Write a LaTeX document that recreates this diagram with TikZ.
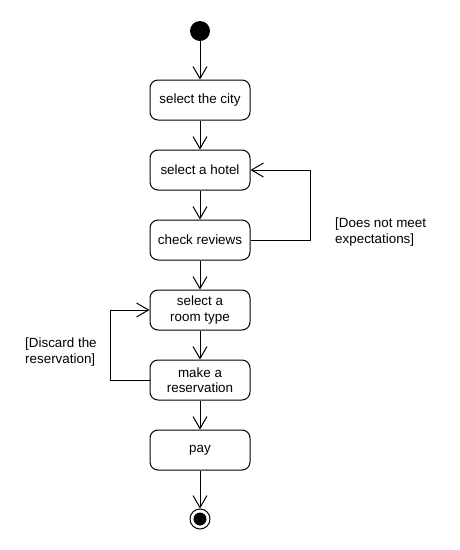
\documentclass[tikz,border=0pt]{standalone}
\usepackage{fontspec}
\setmainfont{Liberation Sans}
\usetikzlibrary{arrows.meta}
\begin{document}
\begin{tikzpicture}[x=1pt,y=-1pt,
  every node/.style={font=\fontsize{13.4}{15.5}\selectfont},
  action/.style={draw, line width=1pt, rounded corners=8pt, minimum width=100pt,
    minimum height=40pt, inner sep=0pt, align=center},
  flow/.style={line width=1pt, -{Straight Barb[length=12pt,width=14pt,line width=1pt]}},
  guard/.style={anchor=west, align=left, inner sep=0pt}]
  \fill[white] (0,0) rectangle (460,550);
  \useasboundingbox (0,0) rectangle (460,550);

  % initial and final states
  \node[circle, fill=black, minimum size=20pt, inner sep=0pt] (start) at (200,31) {};
  \node[circle, draw, line width=1pt, minimum size=20pt, inner sep=0pt] (stop) at (200,519) {};
  \node[circle, fill=black, minimum size=13pt, inner sep=0pt] (stopdot) at (200,519) {};

  % actions
  \node[action] (city)   at (200,100) {select the city};
  \node[action] (hotel)  at (200,170) {select a hotel};
  \node[action] (review) at (200,240) {check reviews};
  \node[action] (room)   at (200,310) {select a\\room type};
  \node[action] (book)   at (200,380) {make a\\reservation};
  \node[action] (pay)    at (200,450) {pay};

  % guards
  \node[guard] (g1) at (335,232) {[Does not meet\\expectations]};
  \node[guard] (g2) at (25,352) {[Discard the\\reservation]};

  % main flow
  \draw[flow] (start) -- (city);
  \draw[flow] (city) -- (hotel);
  \draw[flow] (hotel) -- (review);
  \draw[flow] (review) -- (room);
  \draw[flow] (room) -- (book);
  \draw[flow] (book) -- (pay);
  \draw[flow] (pay) -- (stop);

  % loops back
  \coordinate (r1) at (310,240);
  \coordinate (r2) at (310,170);
  \draw[flow] (review.east) -- (r1) -- (r2) -- (hotel.east);
  \coordinate (l1) at (110,380);
  \coordinate (l2) at (110,310);
  \draw[flow] (book.west) -- (l1) -- (l2) -- (room.west);
\end{tikzpicture}
\end{document}
